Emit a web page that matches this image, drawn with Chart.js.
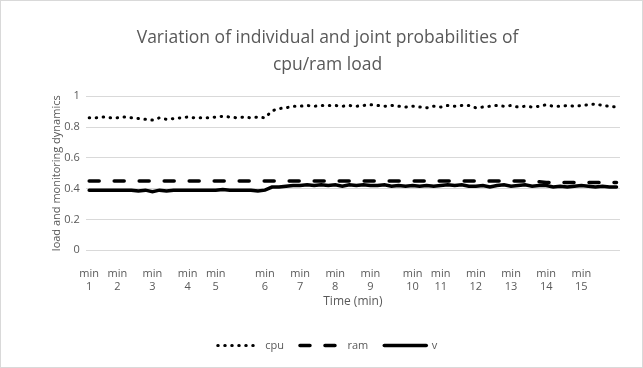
<!DOCTYPE html>
<html>
<head>
<meta charset="utf-8">
<script src="https://cdn.jsdelivr.net/npm/chart.js@4"></script>
<style>
  html, body { margin: 0; padding: 0; background: #fff; }
  #wrap { width: 643px; height: 368px; box-sizing: border-box; border: 1px solid #d9d9d9; }
  canvas { display: block; }
</style>
</head>
<body>
<div id="wrap"><canvas id="chart" width="641" height="366"></canvas></div>
<script>
// tick labels and the sample index where each one sits
const minuteLabels = ['1', '2', '3', '4', '5', '6', '7', '8', '9', '10', '11', '12', '13', '14', '15'];
const minuteIdx = [0, 4, 9, 14, 18, 25, 30, 35, 40, 46, 50, 55, 60, 65, 70];

const cpu = [
    0.86, 0.86, 0.865, 0.86, 0.86, 0.865, 0.86, 0.855, 0.85, 0.845,
    0.86, 0.85, 0.855, 0.86, 0.865, 0.86, 0.86, 0.86, 0.865, 0.87,
    0.865, 0.86, 0.865, 0.86, 0.865, 0.86, 0.905, 0.92, 0.925, 0.935,
    0.935, 0.94, 0.935, 0.94, 0.94, 0.94, 0.935, 0.94, 0.935, 0.94,
    0.945, 0.94, 0.935, 0.94, 0.935, 0.93, 0.935, 0.93, 0.925, 0.935,
    0.93, 0.94, 0.935, 0.94, 0.94, 0.925, 0.93, 0.935, 0.94, 0.935,
    0.94, 0.93, 0.935, 0.93, 0.935, 0.945, 0.935, 0.935, 0.94, 0.935,
    0.94, 0.945, 0.95, 0.94, 0.935, 0.93
];
const ram = [
    0.45, 0.45, 0.45, 0.45, 0.45, 0.45, 0.45, 0.45, 0.45, 0.45,
    0.45, 0.45, 0.45, 0.45, 0.45, 0.45, 0.45, 0.45, 0.45, 0.45,
    0.45, 0.45, 0.45, 0.45, 0.45, 0.45, 0.45, 0.45, 0.45, 0.45,
    0.45, 0.45, 0.45, 0.45, 0.45, 0.45, 0.45, 0.45, 0.45, 0.45,
    0.45, 0.45, 0.45, 0.45, 0.45, 0.45, 0.45, 0.45, 0.45, 0.45,
    0.45, 0.45, 0.45, 0.45, 0.45, 0.45, 0.445, 0.45, 0.45, 0.45,
    0.45, 0.45, 0.45, 0.45, 0.445, 0.44, 0.44, 0.44, 0.44, 0.44,
    0.44, 0.44, 0.44, 0.44, 0.44, 0.44
];
const v = [
    0.39, 0.39, 0.39, 0.39, 0.39, 0.39, 0.39, 0.385, 0.39, 0.38,
    0.39, 0.385, 0.39, 0.39, 0.39, 0.39, 0.39, 0.39, 0.39, 0.395,
    0.39, 0.39, 0.39, 0.39, 0.385, 0.39, 0.41, 0.41, 0.415, 0.42,
    0.42, 0.425, 0.42, 0.425, 0.42, 0.425, 0.415, 0.425, 0.42, 0.425,
    0.42, 0.42, 0.425, 0.415, 0.42, 0.415, 0.42, 0.415, 0.42, 0.415,
    0.42, 0.425, 0.42, 0.425, 0.415, 0.415, 0.42, 0.41, 0.42, 0.425,
    0.415, 0.42, 0.425, 0.415, 0.42, 0.42, 0.41, 0.415, 0.41, 0.415,
    0.42, 0.415, 0.41, 0.415, 0.41, 0.41
];

// category labels: "min N" on the marked samples, blank elsewhere
const labels = cpu.map(() => '');
minuteIdx.forEach((idx, i) => { labels[idx] = ['min', minuteLabels[i]]; });

const textColor = '#595959';
const gridColor = '#d9d9d9';
const fontFamily = '"Open Sans", sans-serif';

new Chart(document.getElementById('chart'), {
    type: 'line',
    data: {
        labels,
        datasets: [{
            label: 'cpu',
            data: cpu,
            borderColor: '#000',
            borderWidth: 3,
            borderDash: [0.5, 6.5],
            borderCapStyle: 'round',
            pointRadius: 0,
            tension: 0
        }, {
            label: 'ram',
            data: ram,
            borderColor: '#000',
            borderWidth: 3.5,
            borderDash: [10, 15],
            borderCapStyle: 'round',
            pointRadius: 0,
            tension: 0
        }, {
            label: 'v',
            data: v,
            borderColor: '#000',
            borderWidth: 3.5,
            borderCapStyle: 'round',
            pointRadius: 0,
            tension: 0
        }]
    },
    options: {
        responsive: false,
        animation: false,
        devicePixelRatio: 1,
        layout: { padding: { left: 34, right: 22, top: 0, bottom: 6 } },
        plugins: {
            title: {
                display: true,
                text: ['Variation of individual and joint probabilities of', 'cpu/ram load'],
                color: textColor,
                font: { family: fontFamily, size: 17.5, weight: 'normal', lineHeight: 1.55 },
                padding: { top: 23, bottom: 18 }
            },
            legend: {
                display: true,
                position: 'bottom',
                labels: {
                    color: textColor,
                    font: { family: fontFamily, size: 11 },
                    usePointStyle: true,
                    pointStyle: 'line',
                    pointStyleWidth: 42,
                    padding: 16,
                    // point-style legend items lose the dash, so copy it from the dataset
                    generateLabels: (chart) => {
                        const items = Chart.defaults.plugins.legend.labels.generateLabels(chart);
                        items.forEach(item => {
                            const ds = chart.data.datasets[item.datasetIndex];
                            item.lineDash = ds.borderDash || [];
                            item.lineWidth = ds.borderWidth;
                            item.lineCap = 'round';
                            item.strokeStyle = '#000';
                        });
                        return items;
                    }
                }
            },
            tooltip: { enabled: false }
        },
        scales: {
            x: {
                type: 'category',
                offset: true,
                grid: { display: false },
                border: { display: false },
                ticks: {
                    autoSkip: false,
                    maxRotation: 0,
                    color: textColor,
                    font: { family: fontFamily, size: 11 },
                    padding: 9
                },
                title: {
                    display: true,
                    text: 'Time (min)',
                    color: textColor,
                    font: { family: fontFamily, size: 12 },
                    padding: { top: -8, bottom: 15 }
                }
            },
            y: {
                min: 0,
                max: 1,
                ticks: {
                    stepSize: 0.2,
                    color: textColor,
                    font: { family: fontFamily, size: 11 },
                    padding: 6,
                    callback: (value) => String(+value.toFixed(1))
                },
                grid: { color: gridColor, drawTicks: false },
                border: { display: false },
                title: {
                    display: true,
                    text: 'load and monitoring dynamics',
                    color: textColor,
                    font: { family: fontFamily, size: 11 },
                    padding: { top: 15, bottom: -5 }
                }
            }
        }
    }
});
</script>
</body>
</html>
